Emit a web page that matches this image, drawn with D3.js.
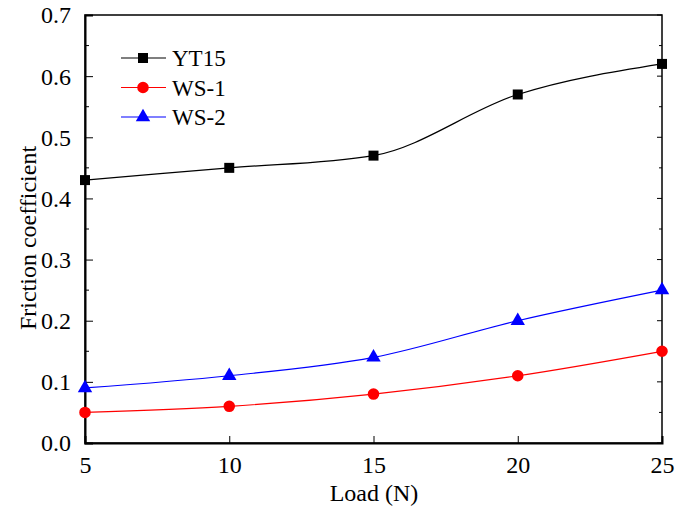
<!DOCTYPE html>
<html>
<head>
<meta charset="utf-8">
<script src="https://cdn.jsdelivr.net/npm/d3@7"></script>
<style>
  body { margin: 0; background: #fff; }
  text { font-family: "Liberation Serif", "Times New Roman", serif; fill: #000; }
</style>
</head>
<body>
<div id="chart"></div>
<script>
// data
var loads = [5, 10, 15, 20, 25];
var yt15 = [0.43, 0.45, 0.47, 0.57, 0.62];
var ws1 = [0.05, 0.06, 0.08, 0.11, 0.15];
var ws2 = [0.09, 0.11, 0.14, 0.20, 0.25];
var seriesNames = ["YT15", "WS-1", "WS-2"];
var xTicks = [5, 10, 15, 20, 25];
var yTicks = [0, 0.1, 0.2, 0.3, 0.4, 0.5, 0.6, 0.7];

var svgWidth = 675;
var svgHeight = 509;
var margin = { top: 15, right: 13, bottom: 66, left: 85 };
var width = svgWidth - margin.left - margin.right;
var height = svgHeight - margin.top - margin.bottom;

var svg = d3.select("#chart").append("svg")
  .attr("width", svgWidth)
  .attr("height", svgHeight);

var chartGroup = svg.append("g")
  .attr("transform", `translate(${margin.left}, ${margin.top})`);

var x = d3.scaleLinear().domain([5, 25]).range([0, width]);
var y = d3.scaleLinear().domain([0, 0.7]).range([height, 0]);

// frame
chartGroup.append("rect")
  .attr("width", width).attr("height", height)
  .attr("fill", "none").attr("stroke", "#000").attr("stroke-width", 1.5);

// bottom axis, ticks inward
var bottomAxis = d3.axisBottom(x).tickValues(xTicks).tickSize(-7).tickPadding(13)
  .tickFormat(d3.format("d"));
var xAxis = chartGroup.append("g")
  .attr("transform", `translate(0, ${height})`)
  .call(bottomAxis);
xAxis.select(".domain").attr("stroke-width", 2);
xAxis.selectAll("text").style("font-size", "24px");

// left axis with minor ticks
var leftAxis = d3.axisLeft(y).tickValues(yTicks).tickSize(-8).tickPadding(14)
  .tickFormat(d3.format(".1f"));
var yAxis = chartGroup.append("g").call(leftAxis);
yAxis.select(".domain").attr("stroke-width", 2);
yAxis.selectAll("text").style("font-size", "24px").attr("dy", "0.33em");

var minor = d3.range(0.05, 0.7, 0.1);
chartGroup.append("g").selectAll("line")
  .data(minor).enter().append("line")
  .attr("x1", 0).attr("x2", 4)
  .attr("y1", d => y(d)).attr("y2", d => y(d))
  .attr("stroke", "#000");

// right side ticks
chartGroup.append("g").selectAll("line")
  .data(yTicks.concat(minor)).enter().append("line")
  .attr("x1", width).attr("x2", d => width - (Math.round(d * 100) % 10 === 0 ? 5 : 3))
  .attr("y1", d => y(d)).attr("y2", d => y(d))
  .attr("stroke", "#000");

// axis titles
svg.append("text")
  .attr("x", 374)
  .attr("y", 501)
  .attr("text-anchor", "middle")
  .style("font-size", "24px")
  .text("Load (N)");

svg.append("text")
  .attr("transform", `translate(36, ${238}) rotate(-90)`)
  .attr("text-anchor", "middle")
  .style("font-size", "24px")
  .text("Friction coefficient");

var series = [
  { name: seriesNames[0], values: yt15, color: "#000000", shape: d3.symbolSquare, size: 100 },
  { name: seriesNames[1], values: ws1, color: "#ff0000", shape: d3.symbolCircle, size: 105 },
  { name: seriesNames[2], values: ws2, color: "#0000ff", shape: d3.symbolTriangle, size: 90 }
];

var line = d3.line()
  .x((d, i) => x(loads[i]))
  .y(d => y(d))
  .curve(d3.curveMonotoneX);

series.forEach(function(s) {
  chartGroup.append("path")
    .attr("d", line(s.values))
    .attr("fill", "none")
    .attr("stroke", s.color)
    .attr("stroke-width", 1.2);

  chartGroup.selectAll(null)
    .data(s.values).enter()
    .append("path")
    .attr("d", d3.symbol().type(s.shape).size(s.size))
    .attr("transform", (d, i) => `translate(${x(loads[i])}, ${y(d)})`)
    .attr("fill", s.color);
});

// legend
var legend = svg.append("g").attr("transform", "translate(121, 58)");
series.forEach(function(s, i) {
  var row = legend.append("g").attr("transform", `translate(0, ${i * 29.5})`);
  row.append("line")
    .attr("x1", 0).attr("x2", 45)
    .attr("stroke", s.color).attr("stroke-width", 1.2);
  row.append("path")
    .attr("d", d3.symbol().type(s.shape).size(s.size))
    .attr("transform", "translate(22, 0)")
    .attr("fill", s.color);
  row.append("text")
    .attr("x", 51).attr("dy", "0.35em")
    .style("font-size", "23px")
    .text(s.name);
});
</script>
</body>
</html>
